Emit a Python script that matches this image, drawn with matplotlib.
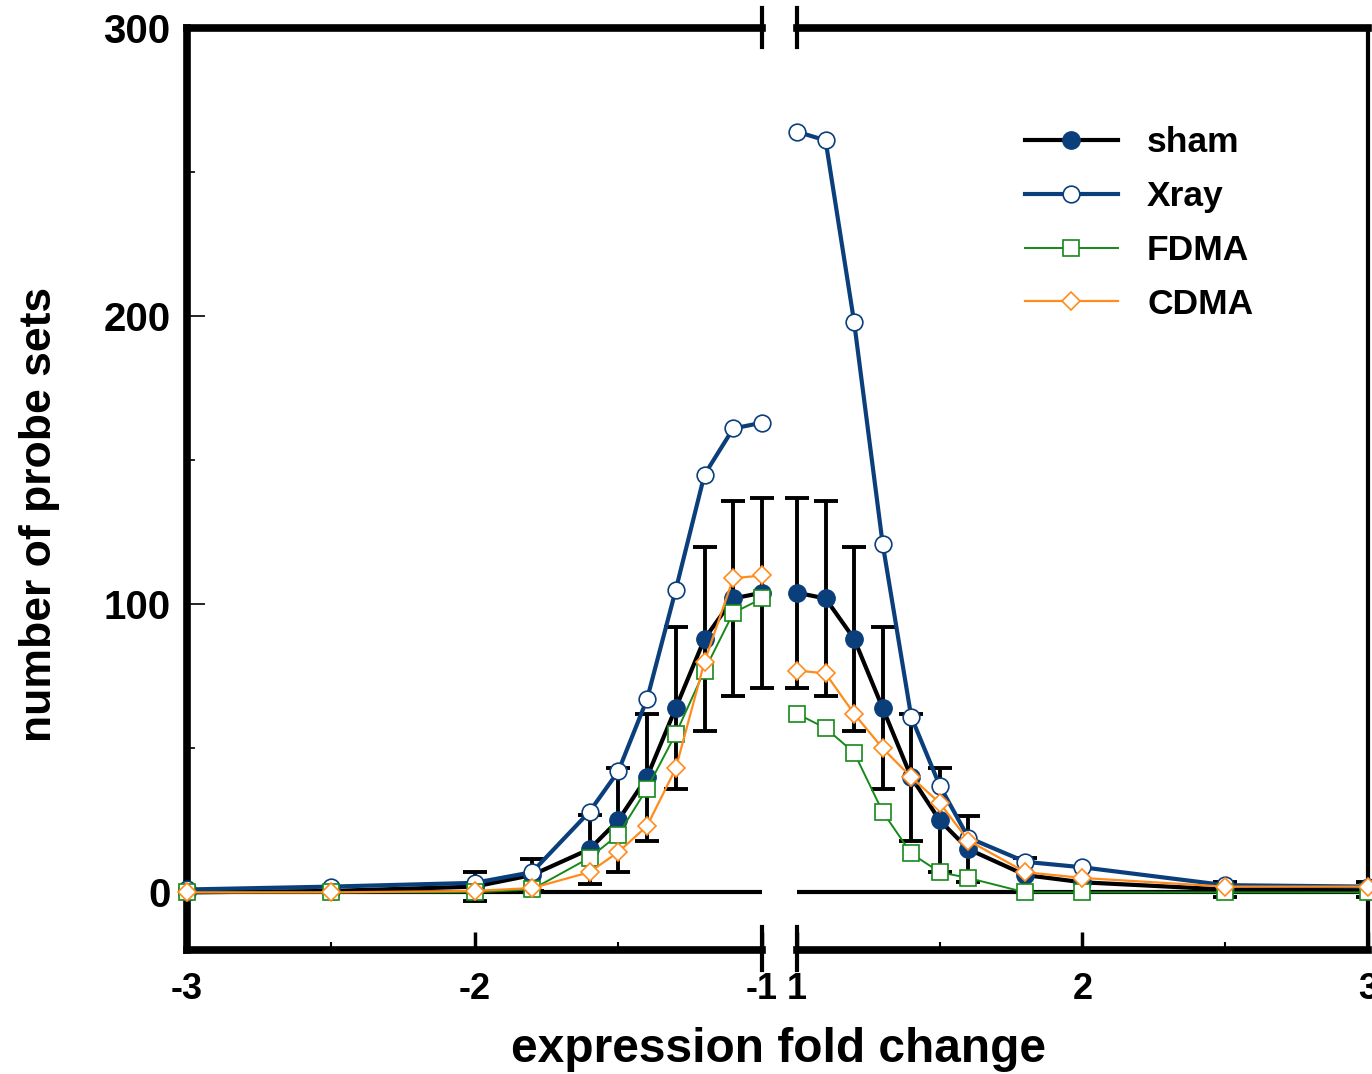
import matplotlib.pyplot as plt
import numpy as np

plt.rcParams['font.family'] = ['Liberation Sans', 'DejaVu Sans']
plt.rcParams['font.weight'] = 'bold'

# down-regulated side (negative fold change)
x_neg = [-3, -2.5, -2, -1.8, -1.6, -1.5, -1.4, -1.3, -1.2, -1.1, -1.0]
sham_neg = [0, 0.5, 2, 6, 15, 25, 40, 64, 88, 102, 104]
sham_neg_err = [0, 0, 5, 5.5, 12, 18, 22, 28, 32, 34, 33]
xray_neg = [1, 2, 3.3, 7, 28, 42, 67, 105, 145, 161, 163]
fdma_neg = [0, 0, 0, 1, 12, 20, 36, 55, 77, 97, 102]
cdma_neg = [0, 0, 0.5, 1.5, 7, 14, 23, 43, 80, 109, 110]

# up-regulated side (positive fold change)
x_pos = [1.0, 1.1, 1.2, 1.3, 1.4, 1.5, 1.6, 1.8, 2.0, 2.5, 3.0]
sham_pos = [104, 102, 88, 64, 40, 25, 15, 6, 3.5, 1, 1]
sham_pos_err = [33, 34, 32, 28, 22, 18, 11.5, 6, 0, 2.5, 2.5]
xray_pos = [264, 261, 198, 121, 61, 37, 19, 10.6, 8.7, 2.5, 2]
fdma_pos = [62, 57, 48.5, 28, 13.5, 7, 5, 0, 0, 0, 0]
cdma_pos = [77, 76, 62, 50, 40, 31, 18, 7, 5, 2, 2]

labels = ['sham', 'Xray', 'FDMA', 'CDMA']

navy = '#0b3f7c'
green = '#17891a'
orange = '#ff8b1c'

fig = plt.figure(figsize=(13.72, 10.74), dpi=100)
W, H = 1372., 1074.
ax1 = fig.add_axes([187 / W, 1 - 950 / H, (762 - 187) / W, (950 - 28) / H])
ax2 = fig.add_axes([797 / W, 1 - 950 / H, (1368 - 797) / W, (950 - 28) / H])


def draw(ax, x, sham, err, xray, fdma, cdma):
    x = np.array(x)
    err = np.array(err)
    sham = np.array(sham)
    ax.axhline(0, color='k', lw=3, zorder=1)
    m = err > 0
    ax.errorbar(x[m], sham[m], yerr=err[m], fmt='none', ecolor='k',
                elinewidth=2.8, capsize=8.5, capthick=2.8, zorder=2, clip_on=False)
    h = []
    h += ax.plot(x, sham, '-o', color='k', lw=3, ms=12.5, mfc=navy, mec=navy,
                 zorder=3, clip_on=False)
    h += ax.plot(x, xray, '-o', color=navy, lw=3, ms=12, mfc='white', mec=navy,
                 mew=1.2, zorder=4, clip_on=False)
    h += ax.plot(x, fdma, '-s', color=green, lw=1.4, ms=12, mfc='white', mec=green,
                 mew=1.2, zorder=5, clip_on=False)
    h += ax.plot(x, cdma, '-D', color=orange, lw=1.6, ms=9.5, mfc='white', mec=orange,
                 mew=1.2, zorder=6, clip_on=False)
    ax.set_ylim(-20, 300)
    return h


draw(ax1, x_neg, sham_neg, sham_neg_err, xray_neg, fdma_neg, cdma_neg)
h = draw(ax2, x_pos, sham_pos, sham_pos_err, xray_pos, fdma_pos, cdma_pos)

ax1.set_xlim(-3, -1)
ax2.set_xlim(1, 3)

for ax in (ax1, ax2):
    for s in ('top', 'bottom'):
        ax.spines[s].set_linewidth(5.5)
ax1.spines['left'].set_linewidth(5.5)
ax1.spines['right'].set_visible(False)
ax2.spines['left'].set_visible(False)
ax2.spines['right'].set_linewidth(3)

ax1.set_yticks([0, 100, 200, 300])
ax1.set_yticks([50, 150, 250], minor=True)
ax1.tick_params(axis='y', which='major', direction='in', length=13, width=1.2,
                labelsize=29, pad=12)
ax1.tick_params(axis='y', which='minor', direction='in', length=6, width=1.2)
ax2.set_yticks([])
ax2.tick_params(axis='y', which='both', left=False, labelleft=False)

ax1.set_xticks([-3, -2, -1])
ax1.set_xticklabels(['-3', '-2', '-1'])
ax1.set_xticks([-2.5, -1.5], minor=True)
ax2.set_xticks([1, 2, 3])
ax2.set_xticklabels(['1', '2', '3'])
ax2.set_xticks([1.5, 2.5], minor=True)
for ax in (ax1, ax2):
    ax.tick_params(axis='x', which='major', direction='in', length=13, width=2.5,
                   labelsize=26, pad=16)
    ax.tick_params(axis='x', which='minor', direction='in', length=6, width=1.5)
    for t in ax.get_xticklabels() + ax.get_yticklabels():
        t.set_fontweight('bold')

# break marks
for ax, xb in ((ax1, 1), (ax2, 0)):
    ax.plot([xb, xb], [-0.022, 0.025], transform=ax.transAxes, color='k', lw=3,
            clip_on=False, zorder=10)
    ax.plot([xb, xb], [0.979, 1.022], transform=ax.transAxes, color='k', lw=3,
            clip_on=False, zorder=10)

ax2.legend(h, labels, loc='upper left', bbox_to_anchor=(0.399, 0.8935),
           frameon=False, handlelength=2.63, handletextpad=0.82,
           labelspacing=0.59, borderpad=0, borderaxespad=0,
           prop={'weight': 'bold', 'size': 25.5})

fig.text(778 / W, 1 - 1062 / H, 'expression fold change', ha='center',
         va='baseline', fontsize=34.5, fontweight='bold')
fig.text(40 / W, 1 - 514 / H, 'number of probe sets', ha='center', va='center',
         rotation=90, fontsize=32, fontweight='bold')

fig.savefig('out.png', dpi=100)
